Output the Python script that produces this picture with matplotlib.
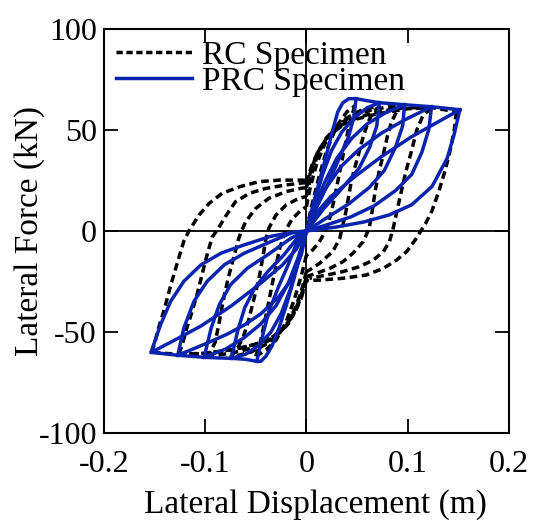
import numpy as np
import matplotlib
matplotlib.use("Agg")
import matplotlib.pyplot as plt
from matplotlib.lines import Line2D

plt.rcParams['font.family'] = ['Liberation Serif', 'DejaVu Serif']
plt.rcParams['axes.unicode_minus'] = False

# ---- RC specimen (black dashed) ----
# initial loading and reloading branches toward the positive peaks
rc_load_pos_x = [[0, 0.005, 0.012, 0.02, 0.03, 0.04, 0.048],
                 [0, 0.004, 0.01, 0.018, 0.028, 0.04, 0.055, 0.073],
                 [0, 0.004, 0.01, 0.018, 0.03, 0.045, 0.065, 0.082, 0.098],
                 [0, 0.004, 0.01, 0.02, 0.033, 0.05, 0.07, 0.095, 0.123],
                 [0, 0.005, 0.012, 0.022, 0.035, 0.05, 0.07, 0.1, 0.125, 0.148]]
rc_load_pos_y = [[0, 12, 26, 40, 52, 59, 62],
                 [12, 22, 33, 43, 51, 56, 60, 62],
                 [17, 26, 36, 45, 52, 57, 60, 61.5, 62],
                 [21.3, 29, 38, 46, 52, 56, 59, 61, 61],
                 [23.8, 32, 40, 47, 52, 55.5, 58, 60.5, 61, 59]]
# unloading from positive peaks
rc_unload_pos_x = [[0.048, 0.044, 0.04, 0.036, 0.032, 0.028, 0.024, 0.019, 0.012, 0.005, 0.0],
                   [0.073, 0.066, 0.061, 0.057, 0.054, 0.051, 0.047, 0.044, 0.041, 0.038, 0.035, 0.033, 0.026, 0.013, 0.003, 0.0],
                   [0.098, 0.09, 0.084, 0.08, 0.076, 0.072, 0.068, 0.065, 0.062, 0.056, 0.046, 0.036, 0.023, 0.01, 0.0],
                   [0.123, 0.115, 0.109, 0.104, 0.098, 0.093, 0.089, 0.086, 0.082, 0.076, 0.066, 0.052, 0.036, 0.02, 0.003],
                   [0.148, 0.146, 0.142, 0.137, 0.131, 0.124, 0.118, 0.113, 0.108, 0.099, 0.089, 0.076, 0.059, 0.036, 0.013, 0.0]]
rc_unload_pos_y = [[62, 56, 47, 37, 27, 17, 8, 0, -6, -10, -12],
                   [62, 59, 54, 48, 43, 37, 30, 23.6, 15, 7, 1, -3.6, -10.2, -16, -19.3, -20],
                   [62, 60, 54, 47, 38, 30, 20, 10, 1.3, -5.3, -11, -15.2, -18.5, -20.9, -22.6],
                   [61, 57, 50, 40, 29, 18, 9, 2, -5.3, -10.2, -14.4, -17.7, -20.1, -21.8, -23.4],
                   [59, 50, 40, 30, 20, 10, 4, 0, -4, -10.2, -14.4, -18.5, -21.8, -23.4, -24.3, -24.5]]
# reloading toward the negative peaks
rc_load_neg_x = [[0, -0.005, -0.012, -0.02, -0.03, -0.04, -0.05],
                 [0, -0.004, -0.01, -0.018, -0.028, -0.04, -0.055, -0.075],
                 [0, -0.004, -0.01, -0.018, -0.03, -0.045, -0.065, -0.082, -0.1],
                 [0, -0.004, -0.01, -0.02, -0.033, -0.05, -0.07, -0.095, -0.126],
                 [0, -0.005, -0.012, -0.022, -0.035, -0.05, -0.07, -0.1, -0.128, -0.153]]
rc_load_neg_y = [[-12, -22, -34, -45, -54, -59, -62],
                 [-20, -28, -37, -45, -51.5, -56, -60, -62.5],
                 [-22.6, -30, -38, -46, -52, -56.5, -59.5, -61, -62],
                 [-23.4, -31, -39, -47, -52.5, -56, -58.5, -60.5, -61],
                 [-24.5, -33, -41, -48, -53, -56, -58.5, -60.5, -61, -60]]
# unloading from negative peaks
rc_unload_neg_x = [[-0.05, -0.046, -0.042, -0.038, -0.034, -0.03, -0.026, -0.021, -0.014, -0.006, 0.0],
                   [-0.075, -0.068, -0.062, -0.057, -0.052, -0.047, -0.043, -0.04, -0.037, -0.03, -0.02, -0.007, 0.0],
                   [-0.1, -0.095, -0.09, -0.086, -0.081, -0.076, -0.071, -0.067, -0.065, -0.06, -0.05, -0.037, -0.02, -0.004, 0.0],
                   [-0.126, -0.123, -0.118, -0.113, -0.108, -0.103, -0.098, -0.093, -0.088, -0.079, -0.07, -0.056, -0.04, -0.02, -0.004, 0.0],
                   [-0.153, -0.15, -0.146, -0.141, -0.134, -0.127, -0.121, -0.116, -0.106, -0.096, -0.083, -0.066, -0.047, -0.027, -0.004, 0.0]]
rc_unload_neg_y = [[-62, -56, -47, -37, -27, -17, -8, 0, 6, 10, 12],
                   [-62.5, -58, -52, -44, -34, -24, -13, -4, 1.5, 7.9, 12.9, 16.3, 17],
                   [-62, -60, -55, -45, -31.5, -21, -11.7, -4, -1.2, 4.6, 11.2, 16.2, 19.5, 21.3, 21.3],
                   [-61, -57, -48, -40, -31.5, -21.5, -11.7, -3, 0.5, 7.9, 14.5, 18.7, 21.1, 22.8, 23.8, 23.8],
                   [-60, -56, -48, -40, -27, -15, -5, 0, 7.9, 13.7, 18.7, 21.9, 24.4, 25.2, 25.2, 25]]

# ---- PRC specimen (blue solid) ----
prc_env_pos_x = [0, 0.006, 0.013, 0.02, 0.026, 0.031, 0.036, 0.042, 0.049, 0.06, 0.072, 0.085, 0.097, 0.11, 0.1235, 0.137, 0.1515]
prc_env_pos_y = [0, 12, 25, 38, 50, 59, 63.5, 65.5, 65.5, 64.5, 63.5, 63, 62.5, 62, 61.5, 60.8, 60]
prc_env_neg_x = [0, -0.006, -0.013, -0.02, -0.027, -0.034, -0.04, -0.045, -0.049, -0.06, -0.074, -0.088, -0.101, -0.114, -0.127, -0.14, -0.153]
prc_env_neg_y = [0, -12, -25, -37, -48, -57, -62, -64.5, -64.5, -63.5, -63, -62.8, -62.5, -62, -61.5, -60.8, -60]

prc_reload_pos_x = [[0, 0.008, 0.016, 0.025, 0.035, 0.047, 0.06, 0.072],
                    [0, 0.008, 0.018, 0.03, 0.045, 0.06, 0.078, 0.097],
                    [0, 0.008, 0.018, 0.034, 0.051, 0.074, 0.097, 0.1235],
                    [0, 0.01, 0.024, 0.048, 0.074, 0.104, 0.13, 0.1515]]
prc_reload_pos_y = [[0, 14, 28, 40, 49, 56, 61, 63.5],
                    [0, 12, 24, 36, 46, 53, 58.5, 62.5],
                    [0, 10, 20.3, 31.8, 40, 48.4, 55, 61.5],
                    [0, 9, 17, 27, 36.8, 46.7, 54, 60]]
prc_reload_neg_x = [[0, -0.008, -0.016, -0.025, -0.035, -0.047, -0.06, -0.074],
                    [0, -0.008, -0.018, -0.03, -0.045, -0.062, -0.08, -0.101],
                    [0, -0.005, -0.015, -0.028, -0.045, -0.061, -0.078, -0.094, -0.11, -0.127],
                    [0, -0.01, -0.024, -0.048, -0.074, -0.104, -0.13, -0.153]]
prc_reload_neg_y = [[0, -15, -29, -41, -50, -56.5, -61, -63],
                    [0, -13, -26, -37, -46, -53, -58.5, -62.5],
                    [0, -11.7, -24, -33, -41, -46.4, -51, -54.6, -58, -61.5],
                    [0, -9, -17, -27, -37, -47, -54, -60]]

prc_unload_pos_x = [[0.049, 0.047, 0.0415, 0.0315, 0.0215, 0.0085, 0.0],
                    [0.072, 0.0695, 0.0625, 0.052, 0.035, 0.017, 0.0],
                    [0.097, 0.095, 0.088, 0.077, 0.062, 0.042, 0.02, 0.0],
                    [0.1235, 0.121, 0.114, 0.104, 0.088, 0.067, 0.044, 0.02, 0.0],
                    [0.1515, 0.146, 0.139, 0.124, 0.104, 0.082, 0.057, 0.03, 0.0]]
prc_unload_pos_y = [[65.5, 56.5, 46.5, 35, 23.5, 10, 0],
                    [63.5, 52, 41.5, 31, 21, 11, 0],
                    [62.5, 52, 41.5, 30, 21.5, 13.5, 6.5, 0],
                    [61.5, 50.5, 39, 28, 20, 12.5, 7, 3, 0],
                    [60, 48, 36, 22, 13, 8, 4.5, 2, 0]]
prc_unload_neg_x = [[-0.049, -0.043, -0.037, -0.028, -0.018, -0.009, 0.0],
                    [-0.074, -0.068, -0.061, -0.051, -0.038, -0.022, -0.009, 0.0],
                    [-0.101, -0.094, -0.086, -0.075, -0.058, -0.038, -0.015, 0.0],
                    [-0.127, -0.121, -0.111, -0.098, -0.081, -0.061, -0.038, -0.015, 0.0],
                    [-0.153, -0.152, -0.144, -0.134, -0.121, -0.104, -0.084, -0.061, -0.035, -0.012, 0.0]]
prc_unload_neg_y = [[-64.5, -51.3, -39.8, -28.2, -16.7, -5.1, 0],
                    [-63, -49.7, -38.1, -28.2, -20, -11.7, -3.5, 0],
                    [-62.5, -48, -36.5, -26.6, -18.3, -11.7, -3.5, 0],
                    [-61.5, -48, -34.8, -24.9, -16.7, -10.9, -5.9, -1, 0],
                    [-60, -58, -46.4, -34.8, -24.9, -16.7, -10.9, -6.8, -2.6, -0.5, 0]]

xticks = [-0.2, -0.1, 0, 0.1, 0.2]
xtick_labels = ['-0.2', '-0.1', '0', '0.1', '0.2']
yticks = [-100, -50, 0, 50, 100]
ytick_labels = ['-100', '-50', '0', '50', '100']

blue = '#0b24ad'
dash = (0, (2.2, 1.3))
lw = 2.5

fig = plt.figure(figsize=(5.38, 5.23), dpi=100)
ax = fig.add_axes([0.193, 0.172, 0.753, 0.7726])

ax.axhline(0, color='black', lw=1.3, zorder=1)
ax.axvline(0, color='black', lw=1.3, zorder=1)

rc_groups = [(rc_load_pos_x, rc_load_pos_y), (rc_unload_pos_x, rc_unload_pos_y),
             (rc_load_neg_x, rc_load_neg_y), (rc_unload_neg_x, rc_unload_neg_y)]
for gx, gy in rc_groups:
    for x, y in zip(gx, gy):
        ax.plot(x, y, color='black', lw=lw, linestyle=dash, zorder=2)

ax.plot(prc_env_pos_x, prc_env_pos_y, color=blue, lw=lw, zorder=3)
ax.plot(prc_env_neg_x, prc_env_neg_y, color=blue, lw=lw, zorder=3)
prc_groups = [(prc_reload_pos_x, prc_reload_pos_y), (prc_reload_neg_x, prc_reload_neg_y),
              (prc_unload_pos_x, prc_unload_pos_y), (prc_unload_neg_x, prc_unload_neg_y)]
for gx, gy in prc_groups:
    for x, y in zip(gx, gy):
        ax.plot(x, y, color=blue, lw=lw, zorder=3)

ax.set_xlim(-0.2, 0.2)
ax.set_ylim(-100, 100)
ax.set_xticks(xticks)
ax.set_xticklabels(xtick_labels)
ax.set_yticks(yticks)
ax.set_yticklabels(ytick_labels)
ax.tick_params(direction='in', length=10, width=1.3, top=True, right=True, labelsize=23)
ax.tick_params(axis='x', pad=12)
ax.tick_params(axis='y', pad=5)
for s in ax.spines.values():
    s.set_linewidth(1.5)

ax.set_xlabel('Lateral Displacement (m)', fontsize=24)
ax.set_ylabel('Lateral Force (kN)', fontsize=24)
ax.xaxis.set_label_coords(0.523, -0.14)
ax.yaxis.set_label_coords(-0.145, 0.5)

handles = [Line2D([], [], color='black', lw=lw, linestyle=(0, (1.8, 1.05))),
           Line2D([], [], color=blue, lw=lw)]
ax.legend(handles, ['RC Specimen', 'PRC Specimen'], loc='upper left', frameon=False,
          fontsize=24, handlelength=2.3, handletextpad=0.3, labelspacing=-0.15,
          borderaxespad=0.1, borderpad=0.25)

fig.savefig('out.png', dpi=100)
